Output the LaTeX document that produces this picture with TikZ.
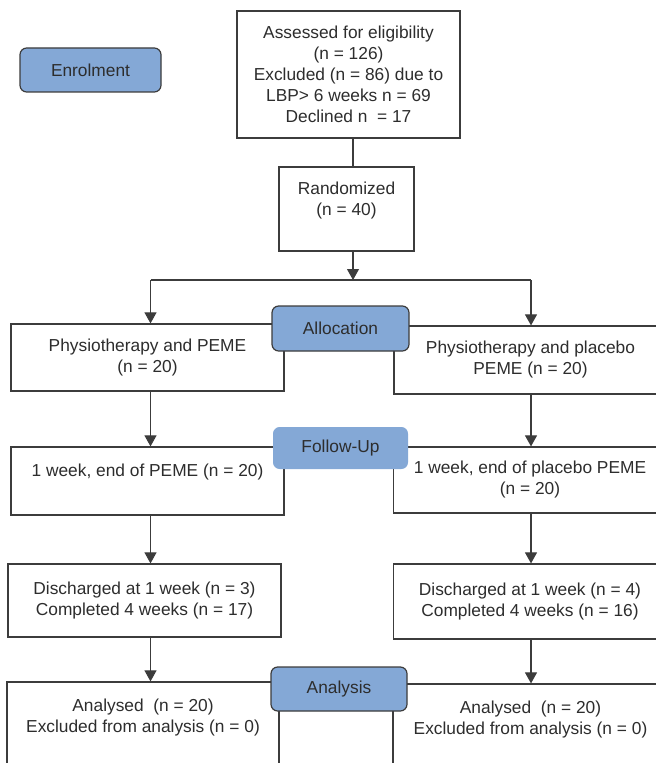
\documentclass[tikz,border=0pt]{standalone}
\usepackage{fontspec}
\setsansfont{Liberation Sans}
\usepackage{tikz}
\usetikzlibrary{arrows.meta,calc}
\definecolor{stagefill}{RGB}{132,168,214}
\definecolor{inkgray}{RGB}{45,45,45}
\definecolor{linegray}{RGB}{60,60,60}

\begin{document}
\begin{tikzpicture}[
  x=0.75pt,y=-0.75pt,
  font=\sffamily\fontsize{13}{15.75}\selectfont,
  phase/.style={rectangle,rounded corners=5pt,draw=linegray,line width=.9pt,fill=stagefill,text=inkgray,align=center,minimum width=102pt,minimum height=33pt},
  flatphase/.style={phase,draw=none},
  box/.style={rectangle,draw=linegray,line width=.9pt,fill=white,text=inkgray,align=center,minimum width=204.75pt},
  link/.style={draw=linegray,line width=.8pt},
  arrow/.style={-{Triangle[length=8.25pt,width=9pt]},draw=linegray,line width=.8pt}
]
\useasboundingbox (0,0) rectangle (656,763);
\clip (0,0) rectangle (656,763);
% top of the chart
\node[phase,minimum width=105.75pt] (enrol) at (90.5,70) {Enrolment};
\node[box,minimum width=167.25pt,minimum height=95.25pt] (assess) at (348.5,74.5) {Assessed for eligibility\\(n = 126)\\Excluded (n = 86) due to\\LBP> 6 weeks n = 69\\Declined n\ \ = 17};
\node[box,minimum width=101.25pt,minimum height=63pt] (rand) at (346.5,209) {Randomized\\(n = 40)\\~};
\coordinate (split) at (353,280);
\coordinate (lcol) at (150.5,0);
\coordinate (rcol) at (531,0);
% two arms
\node[box,minimum height=50.25pt] (lb1) at (147.5,357.5) {Physiotherapy and PEME\\(n = 20)};
\node[box,minimum height=51pt] (rb1) at (530.5,360) {Physiotherapy and placebo\\PEME (n = 20)};
\node[box,minimum height=51pt] (lb2) at (147.5,481) {1 week, end of PEME (n = 20)\\~};
\node[box,minimum height=49.5pt] (rb2) at (530,480) {1 week, end of placebo PEME\\(n = 20)};
\node[box,minimum height=54.75pt] (lb3) at (144.5,600.5) {Discharged at 1 week (n = 3)\\Completed 4 weeks (n = 17)};
\node[box,minimum height=56.25pt] (rb3) at (530,601.5) {Discharged at 1 week (n = 4)\\Completed 4 weeks (n = 16)};
\node[box,minimum width=204pt,minimum height=82.5pt] (lb4) at (143,737) {Analysed\ \ (n = 20)\\Excluded from analysis (n = 0)\\~\\~};
\node[box,minimum width=206.25pt,minimum height=82.5pt] (rb4) at (530.5,739) {Analysed\ \ (n = 20)\\Excluded from analysis (n = 0)\\~\\~};
% connectors
\draw[link] (assess.south -| split) -- (rand.north -| split);
\draw[arrow] (rand.south -| split) -- (split);
\draw[link] (split -| lcol) -- (split -| rcol);
\draw[arrow] (split -| lcol) -- (lb1.north -| lcol);
\draw[arrow] (split -| rcol) -- (rb1.north -| rcol);
\draw[arrow] (lb1.south -| lcol) -- (lb2.north -| lcol);
\draw[arrow] (rb1.south -| rcol) -- (rb2.north -| rcol);
\draw[arrow] (lb2.south -| lcol) -- (lb3.north -| lcol);
\draw[arrow] (rb2.south -| rcol) -- (rb3.north -| rcol);
\draw[arrow] (lb3.south -| lcol) -- (lb4.north -| lcol);
\draw[arrow] (rb3.south -| rcol) -- (rb4.north -| rcol);
% stage labels over the arms
\node[phase,minimum width=102.75pt,minimum height=33.75pt] (alloc) at (340.5,328.5) {Allocation};
\node[flatphase,minimum width=101.25pt,minimum height=31.5pt] (follow) at (340.5,448) {Follow-Up};
\node[phase] (analysis) at (339,689) {Analysis};
\end{tikzpicture}
\end{document}
